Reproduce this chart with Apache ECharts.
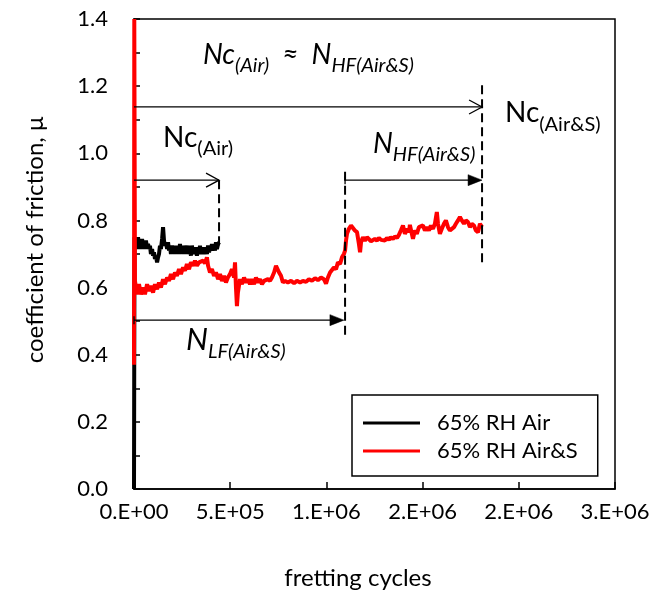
<!DOCTYPE html>
<html>
<head>
<meta charset="utf-8">
<script src="https://cdn.jsdelivr.net/npm/echarts@6/dist/echarts.min.js"></script>
<style>
  html, body { margin: 0; padding: 0; background: #fff; }
  #chart { width: 656px; height: 607px; }
</style>
</head>
<body>
<div id="chart"></div>
<script>
// Friction coefficient traces (cycles, mu)
const airCycles = [0, 2500, 6000, 10000, 15000, 21000, 26000, 31000, 36000, 42000, 47000, 52000, 57000, 62000, 68000, 73000, 78000, 83000, 88000, 94000, 99000, 104000, 109000, 114000, 120000, 125000, 130000, 135000, 140000, 146000, 151000, 156000, 161000, 166000, 172000, 177000, 182000, 187000, 192000, 198000, 203000, 208000, 213000, 218000, 223000, 229000, 234000, 239000, 244000, 249000, 255000, 260000, 265000, 270000, 275000, 281000, 286000, 291000, 296000, 301000, 307000, 312000, 317000, 322000, 327000, 333000, 338000, 343000, 348000, 353000, 359000, 364000, 369000, 374000, 379000, 385000, 390000, 395000, 400000, 405000, 411000, 416000, 421000, 426000, 431000, 437000, 442000];
const airMu = [0.0, 0.75, 0.715, 0.735, 0.715, 0.75, 0.72, 0.74, 0.715, 0.745, 0.72, 0.735, 0.715, 0.74, 0.72, 0.73, 0.715, 0.725, 0.70, 0.715, 0.695, 0.705, 0.685, 0.695, 0.675, 0.69, 0.70, 0.725, 0.715, 0.745, 0.78, 0.74, 0.725, 0.735, 0.715, 0.735, 0.71, 0.725, 0.70, 0.725, 0.71, 0.72, 0.70, 0.725, 0.705, 0.72, 0.70, 0.73, 0.705, 0.72, 0.70, 0.725, 0.705, 0.72, 0.70, 0.725, 0.70, 0.715, 0.695, 0.725, 0.70, 0.72, 0.70, 0.715, 0.695, 0.72, 0.70, 0.725, 0.70, 0.715, 0.70, 0.72, 0.705, 0.715, 0.70, 0.725, 0.705, 0.72, 0.71, 0.73, 0.71, 0.725, 0.71, 0.735, 0.715, 0.73, 0.735];

const airSCycles = [0, 1500, 5000, 15000, 26000, 36000, 47000, 57000, 68000, 78000, 88000, 99000, 109000, 120000, 130000, 140000, 151000, 161000, 172000, 182000, 192000, 203000, 213000, 223000, 234000, 244000, 255000, 265000, 275000, 286000, 296000, 307000, 317000, 327000, 338000, 348000, 359000, 369000, 379000, 385000, 395000, 405000, 416000, 426000, 437000, 447000, 457000, 468000, 478000, 488000, 499000, 509000, 520000, 525000, 530000, 535000, 540000, 551000, 561000, 572000, 582000, 592000, 603000, 613000, 624000, 634000, 644000, 655000, 665000, 676000, 686000, 696000, 707000, 717000, 728000, 738000, 743000, 754000, 764000, 774000, 785000, 800000, 816000, 832000, 847000, 863000, 878000, 894000, 909000, 925000, 941000, 956000, 972000, 987000, 998000, 1008000, 1019000, 1029000, 1039000, 1050000, 1060000, 1071000, 1081000, 1091000, 1097000, 1102000, 1107000, 1117000, 1128000, 1138000, 1148000, 1159000, 1169000, 1175000, 1180000, 1190000, 1200000, 1211000, 1221000, 1232000, 1242000, 1252000, 1263000, 1273000, 1284000, 1294000, 1304000, 1315000, 1325000, 1335000, 1346000, 1356000, 1367000, 1377000, 1387000, 1398000, 1408000, 1419000, 1429000, 1434000, 1444000, 1450000, 1460000, 1470000, 1481000, 1491000, 1502000, 1512000, 1522000, 1533000, 1543000, 1554000, 1564000, 1574000, 1580000, 1590000, 1600000, 1611000, 1621000, 1632000, 1642000, 1652000, 1663000, 1673000, 1684000, 1694000, 1704000, 1715000, 1725000, 1736000, 1746000, 1756000, 1767000, 1777000, 1788000, 1798000, 1809000];
const airSMu = [0.37, 1.40, 0.62, 0.58, 0.61, 0.58, 0.60, 0.58, 0.61, 0.59, 0.605, 0.585, 0.61, 0.595, 0.615, 0.60, 0.625, 0.61, 0.63, 0.62, 0.64, 0.625, 0.645, 0.635, 0.655, 0.64, 0.66, 0.65, 0.67, 0.655, 0.675, 0.665, 0.68, 0.665, 0.675, 0.67, 0.68, 0.672, 0.69, 0.665, 0.645, 0.655, 0.635, 0.645, 0.625, 0.64, 0.62, 0.635, 0.615, 0.63, 0.64, 0.655, 0.63, 0.675, 0.60, 0.545, 0.585, 0.625, 0.61, 0.63, 0.615, 0.625, 0.61, 0.625, 0.61, 0.63, 0.615, 0.625, 0.61, 0.62, 0.615, 0.625, 0.62, 0.63, 0.645, 0.665, 0.67, 0.645, 0.635, 0.615, 0.62, 0.615, 0.62, 0.613, 0.62, 0.615, 0.62, 0.617, 0.625, 0.62, 0.628, 0.622, 0.63, 0.625, 0.612, 0.63, 0.645, 0.64, 0.66, 0.655, 0.675, 0.67, 0.69, 0.70, 0.71, 0.74, 0.76, 0.775, 0.785, 0.78, 0.77, 0.765, 0.73, 0.705, 0.735, 0.75, 0.74, 0.75, 0.745, 0.738, 0.735, 0.745, 0.74, 0.748, 0.742, 0.745, 0.74, 0.748, 0.742, 0.75, 0.745, 0.752, 0.748, 0.757, 0.77, 0.785, 0.76, 0.775, 0.765, 0.787, 0.76, 0.745, 0.77, 0.76, 0.78, 0.775, 0.785, 0.77, 0.78, 0.77, 0.785, 0.775, 0.79, 0.825, 0.79, 0.76, 0.775, 0.79, 0.80, 0.78, 0.77, 0.765, 0.78, 0.79, 0.80, 0.81, 0.80, 0.79, 0.80, 0.795, 0.78, 0.79, 0.785, 0.77, 0.765, 0.79, 0.78];

const seriesNames = ['65% RH Air', '65% RH Air&S'];
const xTickLabels = ['0.E+00', '5.E+05', '1.E+06', '2.E+06', '2.E+06', '3.E+06'];
const yTickLabels = ['0.0', '0.2', '0.4', '0.6', '0.8', '1.0', '1.2', '1.4'];

// Cycle-count arrows: start, end, level, head style (0 open, 1 filled)
const arrowStart = [0, 0, 1097000, 0];
const arrowEnd = [1809000, 442000, 1809000, 1091000];
const arrowMu = [1.138, 0.92, 0.92, 0.503];
const arrowFilled = [0, 0, 1, 1];

// Dashed drop lines marking the transitions
const guideCycles = [442000, 1097000, 1809000];
const guideTop = [0.92, 0.945, 1.203];
const guideBottom = [0.72, 0.459, 0.673];

// Annotation texts, anchored at their left edge / main-text middle
const noteCycles = [358000, 150700, 1928000, 1242000, 270000];
const noteMu = [1.293, 1.046, 1.119, 1.028, 0.445];
const noteTexts = [
  '{mi|Nc}{si|(Air)}{mi|  \u2248  N}{si|HF(Air&S)}',
  '{m|Nc}{s|(Air)}',
  '{m|Nc}{s|(Air&S)}',
  '{mi|N}{si|HF(Air&S)}',
  '{mL|N}{si|LF(Air&S)}'
];

const FONT = 'Lato';
const MAIN = 28, SUB = 20, SUB_DROP = 15;

const pairs = (xs, ys) => xs.map((x, i) => [x, ys[i]]);

const chart = echarts.init(document.getElementById('chart'), null, { renderer: 'canvas' });

function renderArrow(params, api) {
  const y = api.value(2);
  const p0 = api.coord([api.value(0), y]);
  const p1 = api.coord([api.value(1), y]);
  const filled = api.value(3) === 1;
  const style = { stroke: '#000', lineWidth: 1.3, fill: null };
  const children = [];
  if (filled) {
    children.push({ type: 'line', shape: { x1: p0[0], y1: p0[1], x2: p1[0] - 12, y2: p1[1] }, style });
    children.push({ type: 'line', shape: { x1: p0[0], y1: p0[1] - 4, x2: p0[0], y2: p0[1] + 4 }, style });
    children.push({ type: 'polygon', shape: { points: [[p1[0] - 14, p1[1] - 5.5], [p1[0], p1[1]], [p1[0] - 14, p1[1] + 5.5]] }, style: { fill: '#000', stroke: '#000', lineWidth: 0.5 } });
  } else {
    children.push({ type: 'line', shape: { x1: p0[0], y1: p0[1], x2: p1[0], y2: p1[1] }, style });
    children.push({ type: 'polyline', shape: { points: [[p1[0] - 13, p1[1] - 7], [p1[0], p1[1]], [p1[0] - 13, p1[1] + 7]] }, style });
  }
  return { type: 'group', children };
}

function renderGuide(params, api) {
  const a = api.coord([api.value(0), api.value(1)]);
  const b = api.coord([api.value(0), api.value(2)]);
  return {
    type: 'line',
    shape: { x1: a[0], y1: a[1], x2: b[0], y2: b[1] },
    style: { stroke: '#000', lineWidth: 2, lineDash: [9, 5] }
  };
}

function renderNote(params, api) {
  const p = api.coord([api.value(0), api.value(1)]);
  const big = api.value(2) === 4;
  const mainSize = big ? 31 : MAIN;
  return {
    type: 'text',
    x: p[0],
    y: p[1] - mainSize / 2,
    style: {
      text: noteTexts[api.value(2)],
      align: 'left',
      verticalAlign: 'top',
      fill: '#000',
      rich: {
        m: { fontFamily: FONT, fontSize: MAIN, height: MAIN, verticalAlign: 'top', fill: '#000' },
        s: { fontFamily: FONT, fontSize: SUB, height: SUB, verticalAlign: 'top', padding: [SUB_DROP, 0, 0, 0], fill: '#000' },
        mi: { fontFamily: FONT, fontStyle: 'italic', fontSize: MAIN, height: MAIN, verticalAlign: 'top', fill: '#000' },
        mL: { fontFamily: FONT, fontStyle: 'italic', fontSize: 31, height: 31, verticalAlign: 'top', fill: '#000' },
        si: { fontFamily: FONT, fontStyle: 'italic', fontSize: SUB, height: SUB, verticalAlign: 'top', padding: [big ? 17 : SUB_DROP, 0, 0, 0], fill: '#000' }
      }
    }
  };
}

const axisLineStyle = { color: '#000', width: 1.5 };

chart.setOption({
  animation: false,
  backgroundColor: '#fff',
  grid: {
    left: 134, right: 41, top: 19, bottom: 118,
    show: true, borderColor: '#000', borderWidth: 1.5, backgroundColor: 'transparent'
  },
  legend: {
    data: seriesNames,
    orient: 'vertical',
    left: 352,
    top: 395,
    icon: 'rect',
    itemWidth: 57,
    itemHeight: 3,
    itemGap: 6,
    padding: [17, 20, 14, 11],
    borderColor: '#000',
    borderWidth: 1.5,
    textStyle: { fontFamily: FONT, fontSize: 22, color: '#000', padding: [0, 0, 0, 12] }
  },
  xAxis: {
    type: 'value',
    min: 0,
    max: 2500000,
    interval: 500000,
    axisLine: { show: true, onZero: false, lineStyle: axisLineStyle },
    axisTick: { show: true, inside: true, length: 7, lineStyle: axisLineStyle },
    splitLine: { show: false },
    axisLabel: {
      margin: 12,
      fontFamily: FONT, fontSize: 22, color: '#000',
      formatter: (v) => xTickLabels[Math.round(v / 500000)]
    }
  },
  yAxis: {
    type: 'value',
    min: 0,
    max: 1.4,
    interval: 0.2,
    axisLine: { show: true, onZero: false, lineStyle: axisLineStyle },
    axisTick: { show: true, inside: true, length: 6, lineStyle: axisLineStyle },
    minorTick: { show: true, splitNumber: 2, length: 6, lineStyle: axisLineStyle },
    splitLine: { show: false },
    minorSplitLine: { show: false },
    axisLabel: {
      margin: 26,
      fontFamily: FONT, fontSize: 22, color: '#000',
      formatter: (v) => yTickLabels[Math.round(v / 0.2)]
    }
  },
  graphic: [
    {
      type: 'text', x: 35, y: 240, rotation: Math.PI / 2,
      style: { text: 'coefficient of friction, \u03bc', fontFamily: FONT, fontSize: 24, fill: '#000', align: 'center', verticalAlign: 'middle' }
    },
    {
      type: 'text', x: 358, y: 578,
      style: { text: 'fretting cycles', fontFamily: FONT, fontSize: 24, fill: '#000', align: 'center', verticalAlign: 'middle' }
    }
  ],
  series: [
    {
      name: seriesNames[0], type: 'line', data: pairs(airCycles, airMu),
      showSymbol: false, symbol: 'none', clip: false,
      lineStyle: { color: '#000', width: 4 }, itemStyle: { color: '#000' }, z: 3
    },
    {
      name: seriesNames[1], type: 'line', data: pairs(airSCycles, airSMu),
      showSymbol: false, symbol: 'none', clip: false,
      lineStyle: { color: '#ff0000', width: 4 }, itemStyle: { color: '#ff0000' }, z: 4
    },
    {
      type: 'custom', renderItem: renderArrow, silent: true, z: 5,
      data: arrowStart.map((s, i) => [s, arrowEnd[i], arrowMu[i], arrowFilled[i]]),
      encode: { x: [0, 1], y: 2 }
    },
    {
      type: 'custom', renderItem: renderGuide, silent: true, z: 5,
      data: guideCycles.map((c, i) => [c, guideTop[i], guideBottom[i]]),
      encode: { x: 0, y: [1, 2] }
    },
    {
      type: 'custom', renderItem: renderNote, silent: true, z: 6,
      data: noteCycles.map((c, i) => [c, noteMu[i], i]),
      encode: { x: 0, y: 1 }
    }
  ]
});
</script>
</body>
</html>
